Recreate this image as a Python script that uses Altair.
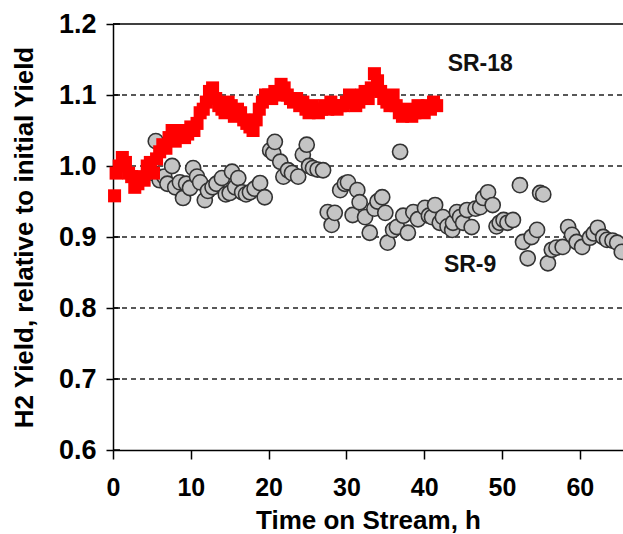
import altair as alt
import pandas as pd

# SR-18 (red squares)
sr18_t = [0.2, 0.4, 0.8, 1.2, 1.6, 2.0, 2.4, 2.8, 3.2, 3.6, 4.0, 4.4, 4.8, 5.2, 5.6,
          6.0, 6.4, 6.8, 7.2, 7.6, 8.0, 8.4, 8.8, 9.2, 9.6, 10.0, 10.4, 10.8, 11.2, 11.6,
          12.0, 12.4, 12.8, 13.2, 13.6, 14.0, 14.4, 14.8, 15.2, 15.6, 16.0, 16.4, 16.8, 17.2,
          17.6, 18.0, 18.4, 18.8, 19.2, 19.6, 20.0, 20.4, 20.8, 21.2, 21.6, 22.0, 22.4, 22.8,
          23.2, 23.6, 24.0, 24.4, 24.8, 25.2, 25.6, 26.0, 26.4, 26.8, 27.2, 27.6, 28.0, 28.4,
          28.8, 29.2, 29.6, 30.0, 30.4, 30.8, 31.2, 31.6, 32.0, 32.4, 32.8, 33.2, 33.6, 34.0,
          34.4, 34.8, 35.2, 35.6, 36.0, 36.4, 36.8, 37.2, 37.6, 38.0, 38.4, 38.8, 39.2, 39.6,
          40.0, 40.4, 40.8, 41.2, 41.6]
sr18_y = [0.958, 0.99, 1.0, 1.012, 1.005, 0.99, 0.985, 0.97, 0.975, 0.985, 0.98, 1.0, 1.005, 0.99, 1.01,
          1.02, 1.03, 1.025, 1.04, 1.05, 1.035, 1.045, 1.05, 1.04, 1.045, 1.055, 1.05, 1.06, 1.075, 1.08,
          1.09, 1.105, 1.11, 1.095, 1.085, 1.08, 1.075, 1.09, 1.085, 1.07, 1.08, 1.075, 1.065, 1.06,
          1.055, 1.05, 1.065, 1.08, 1.09, 1.10, 1.10, 1.095, 1.105, 1.10, 1.115, 1.11, 1.10, 1.095,
          1.09, 1.095, 1.085, 1.09, 1.08, 1.075, 1.085, 1.08, 1.075, 1.08, 1.085, 1.08, 1.09, 1.085,
          1.08, 1.085, 1.085, 1.09, 1.10, 1.09, 1.085, 1.09, 1.10, 1.105, 1.095, 1.11, 1.13, 1.12,
          1.105, 1.095, 1.09, 1.085, 1.10, 1.085, 1.075, 1.07, 1.08, 1.075, 1.07, 1.075, 1.085, 1.08,
          1.075, 1.085, 1.08, 1.09, 1.085]

# SR-9 (grey circles)
sr9_t = [5.5, 5.2, 6.0, 6.6, 7.0, 7.6, 8.0, 8.6, 9.0, 9.4, 9.9, 10.3, 10.8, 11.2, 11.8, 12.2,
         12.8, 13.3, 14.0, 14.5, 15.0, 15.3, 15.7, 16.1, 16.6, 17.1, 17.6, 18.2, 18.9, 19.5,
         20.2, 20.6, 20.8, 21.5, 21.9, 22.5, 23.0, 23.8, 24.4, 24.9, 25.2, 25.7, 26.3, 27.0,
         27.6, 28.1, 28.5, 29.2, 29.8, 30.2, 30.8, 31.4, 31.7, 32.4, 33.0, 33.6, 34.0, 34.6,
         35.0, 35.3, 36.0, 36.5, 36.9, 37.3, 37.9, 38.6, 39.2, 40.1, 40.6, 41.0, 41.4, 42.0,
         42.4, 43.0, 43.6, 43.7, 44.2, 44.6, 45.0, 45.5, 46.1, 46.6, 47.2, 47.6, 48.2, 48.8,
         49.3, 49.7, 50.2, 50.7, 51.4, 52.3, 52.7, 53.3, 53.8, 54.5, 54.9, 55.3, 55.9, 56.4,
         57.0, 57.8, 58.5, 59.0, 59.6, 60.3, 61.3, 61.8, 62.3, 63.0, 63.5, 64.2, 64.8, 65.4]
sr9_y = [1.035, 0.99, 0.98, 0.985, 0.975, 1.0, 0.97, 0.977, 0.955, 0.975, 0.969, 0.997, 0.985, 0.977, 0.952, 0.965,
         0.97, 0.975, 0.983, 0.96, 0.962, 0.992, 0.97, 0.983, 0.963, 0.96, 0.963, 0.968, 0.976, 0.956,
         1.022, 1.018, 1.034, 1.006, 0.985, 0.994, 0.99, 0.985, 1.016, 1.03, 1.0, 0.997, 0.995, 0.994,
         0.935, 0.917, 0.934, 0.966, 0.975, 0.977, 0.931, 0.966, 0.949, 0.928, 0.906, 0.94, 0.95, 0.956,
         0.934, 0.892, 0.91, 0.914, 1.02, 0.93, 0.906, 0.935, 0.925, 0.941, 0.93, 0.928, 0.945, 0.92,
         0.928, 0.915, 0.91, 0.92, 0.935, 0.928, 0.92, 0.938, 0.914, 0.94, 0.942, 0.955, 0.963, 0.945,
         0.915, 0.92, 0.924, 0.92, 0.924, 0.973, 0.893, 0.87, 0.9, 0.91, 0.962, 0.96, 0.863, 0.882,
         0.885, 0.886, 0.914, 0.903, 0.893, 0.886, 0.899, 0.905, 0.913, 0.9, 0.896, 0.895, 0.892, 0.879]

x_ticks = [0, 10, 20, 30, 40, 50, 60]
y_ticks = [0.6, 0.7, 0.8, 0.9, 1.0, 1.1, 1.2]
grid_levels = [0.7, 0.8, 0.9, 1.0, 1.1]
labels = ["SR-18", "SR-9"]
label_t = [47.2, 45.9]
label_y = [1.143, 0.861]

FONT = "Liberation Sans"
xdom = [0, 65.55]
ydom = [0.6, 1.2]

sr18 = pd.DataFrame({"t": sr18_t, "y": sr18_y})
sr9 = pd.DataFrame({"t": sr9_t, "y": sr9_y})
grid = pd.DataFrame({"y": grid_levels})
ticks = pd.DataFrame({"y": y_ticks})
lab = pd.DataFrame({"t": label_t, "y": label_y, "text": labels})

xs = alt.Scale(domain=xdom, nice=False, zero=False)
ys = alt.Scale(domain=ydom, nice=False, zero=False)

xaxis = alt.Axis(values=x_ticks, grid=False, domainColor="#000", domainWidth=1.5,
                 tickColor="#000", tickWidth=1.5, tickSize=9, labelFont=FONT,
                 labelFontSize=25, labelFontWeight="bold", labelColor="#000",
                 labelPadding=16, title="Time on Stream, h", titleFont=FONT,
                 titleFontSize=26, titleFontWeight="bold", titleColor="#000",
                 titlePadding=7, labelFlush=False)
yaxis = alt.Axis(values=y_ticks, grid=False, domainColor="#000", domainWidth=1.5,
                 tickColor="#000", tickWidth=1.5, tickSize=7, labelFont=FONT,
                 labelFontSize=27, labelFontWeight="bold", labelColor="#000",
                 labelPadding=10, format=".1f",
                 title="H2 Yield, relative to initial Yield", titleFont=FONT,
                 titleFontSize=26, titleFontWeight="bold", titleColor="#000",
                 titlePadding=21)

gridlines = alt.Chart(grid).mark_rule(color="#222", strokeWidth=1.6, strokeDash=[5, 4]).encode(
    y=alt.Y("y:Q", scale=ys, axis=yaxis),
    x=alt.value(0), x2=alt.value(510)
)
topline = alt.Chart(pd.DataFrame({"y": [1.2]})).mark_rule(color="#000", strokeWidth=1.5).encode(
    y=alt.Y("y:Q", scale=ys), x=alt.value(0), x2=alt.value(510)
)
inner_ticks = alt.Chart(ticks).mark_rule(color="#000", strokeWidth=1.5).encode(
    y=alt.Y("y:Q", scale=ys), x=alt.value(0), x2=alt.value(7)
)
gray = alt.Chart(sr9).mark_point(shape="circle", filled=True, fill="#c4c4c4", stroke="#333",
                                 strokeWidth=1.6, size=230, opacity=1).encode(
    x=alt.X("t:Q", scale=xs, axis=xaxis),
    y=alt.Y("y:Q", scale=ys)
)
red = alt.Chart(sr18).mark_point(shape="square", filled=True, fill="#ff0000", color="#ff0000",
                                 strokeWidth=0, size=170, opacity=1).encode(
    x=alt.X("t:Q", scale=xs),
    y=alt.Y("y:Q", scale=ys)
)
text = alt.Chart(lab).mark_text(font=FONT, fontSize=23, fontWeight="bold", color="#111").encode(
    x=alt.X("t:Q", scale=xs), y=alt.Y("y:Q", scale=ys), text="text:N"
)

chart = alt.layer(gridlines, topline, inner_ticks, gray, red, text).properties(
    width=510, height=426,
    autosize=alt.AutoSizeParams(type="none"),
    padding={"left": 113, "top": 24, "right": 0, "bottom": 84},
    background="white"
).configure_view(stroke=None)

chart.save("out.html", embed_options={"renderer": "svg", "actions": False})
